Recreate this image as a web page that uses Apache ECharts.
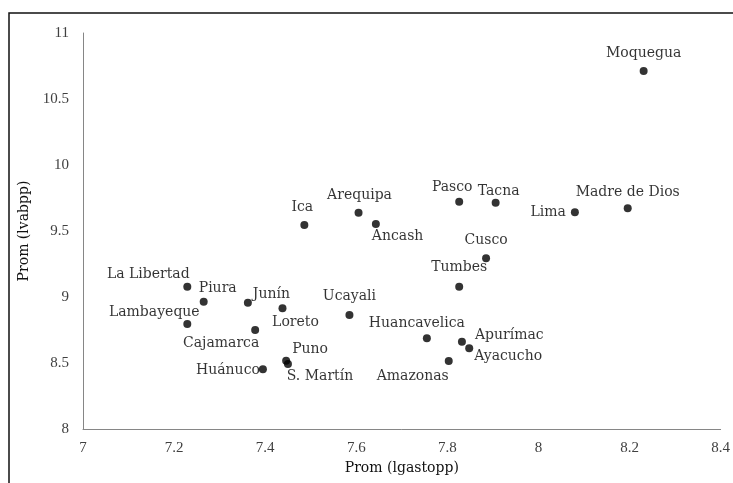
<!DOCTYPE html>
<html>
<head>
<meta charset="utf-8">
<script src="https://cdn.jsdelivr.net/npm/echarts@6/dist/echarts.min.js"></script>
<style>
  html, body { margin: 0; padding: 0; background: #fff; }
  #chart { width: 733px; height: 483px; }
</style>
</head>
<body>
<div id="chart"></div>
<script>
// datos por región
var regiones = ['Moquegua', 'Ica', 'Arequipa', 'Ancash', 'Pasco', 'Tacna', 'Lima', 'Madre de Dios',
  'Cusco', 'Tumbes', 'La Libertad', 'Piura', 'Junín', 'Ucayali', 'Lambayeque', 'Loreto',
  'Cajamarca', 'Puno', 'S. Martín', 'Huánuco', 'Huancavelica', 'Apurímac', 'Ayacucho', 'Amazonas'];
var lgastopp = [8.231, 7.486, 7.605, 7.643, 7.826, 7.906, 8.080, 8.196,
  7.885, 7.826, 7.229, 7.265, 7.362, 7.585, 7.229, 7.438,
  7.378, 7.446, 7.450, 7.395, 7.755, 7.832, 7.848, 7.803];
var lvabpp = [10.712, 9.545, 9.639, 9.553, 9.722, 9.714, 9.642, 9.672,
  9.293, 9.078, 9.078, 8.964, 8.957, 8.864, 8.795, 8.914,
  8.750, 8.517, 8.492, 8.452, 8.687, 8.661, 8.611, 8.515];
var xTicks = [7, 7.2, 7.4, 7.6, 7.8, 8, 8.2, 8.4];
var yTicks = [8, 8.5, 9, 9.5, 10, 10.5, 11];

// ubicación de etiquetas: [posición, dx, dy]
var etiqueta = {
  'Moquegua': ['top', 0, -2], 'Ica': ['top', -2, -2], 'Arequipa': ['top', 1, -1],
  'Ancash': ['right', -13, 12], 'Pasco': ['top', -7, 2], 'Tacna': ['top', 3, 5],
  'Lima': ['left', 0, 0], 'Madre de Dios': ['top', 0, 0], 'Cusco': ['top', 0, -2],
  'Tumbes': ['top', 0, -3], 'La Libertad': ['top', -39, 4], 'Piura': ['top', 14, 3],
  'Junín': ['right', -4, -8], 'Ucayali': ['top', 0, -3], 'Lambayeque': ['top', -33, 4],
  'Loreto': ['bottom', 13, -2], 'Cajamarca': ['bottom', -34, -3], 'Puno': ['right', -3, -11],
  'S. Martín': ['bottom', 32, -4], 'Huánuco': ['left', 6, 1], 'Huancavelica': ['top', -10, 1],
  'Apurímac': ['right', 4, -6], 'Ayacucho': ['right', -4, 8], 'Amazonas': ['bottom', -36, -1]
};

var puntos = regiones.map(function (n, i) {
  var e = etiqueta[n];
  return {
    name: n,
    value: [lgastopp[i], lvabpp[i]],
    label: { position: e[0], offset: [e[1], e[2]] }
  };
});

var fmt = function (v) { return String(v); };

var myChart = echarts.init(document.getElementById('chart'));
var option = {
  backgroundColor: '#fff',
  animation: false,
  grid: { left: 83, right: 11, top: 33, bottom: 54, containLabel: false },
  xAxis: {
    type: 'value',
    min: xTicks[0],
    max: xTicks[xTicks.length - 1],
    interval: 0.2,
    name: 'Prom (lgastopp)',
    nameLocation: 'middle',
    nameGap: 28,
    nameTextStyle: { fontFamily: 'DejaVu Serif', fontSize: 14, color: '#111' },
    axisLine: { show: true, lineStyle: { color: '#868686', width: 1 } },
    axisTick: { show: false },
    splitLine: { show: false },
    axisLabel: { margin: 12, fontFamily: 'Liberation Serif', fontSize: 15, color: '#404040', formatter: fmt }
  },
  yAxis: {
    type: 'value',
    min: yTicks[0],
    max: yTicks[yTicks.length - 1],
    interval: 0.5,
    name: 'Prom (lvabpp)',
    nameLocation: 'middle',
    nameGap: 48,
    nameRotate: 90,
    nameTextStyle: { fontFamily: 'DejaVu Serif', fontSize: 14, color: '#111' },
    axisLine: { show: true, lineStyle: { color: '#868686', width: 1 } },
    axisTick: { show: false },
    splitLine: { show: false },
    axisLabel: { margin: 14, fontFamily: 'Liberation Serif', fontSize: 15, color: '#404040', formatter: fmt }
  },
  graphic: [{
    type: 'rect',
    shape: { x: 9, y: 13, width: 730, height: 480 },
    style: { fill: 'none', stroke: '#111', lineWidth: 1.5 },
    silent: true
  }],
  series: [{
    type: 'scatter',
    symbolSize: 8,
    itemStyle: { color: '#000' },
    label: {
      show: true,
      formatter: '{b}',
      fontFamily: 'DejaVu Serif',
      fontSize: 14,
      color: '#000'
    },
    data: puntos
  }]
};
myChart.setOption(option);
</script>
</body>
</html>
